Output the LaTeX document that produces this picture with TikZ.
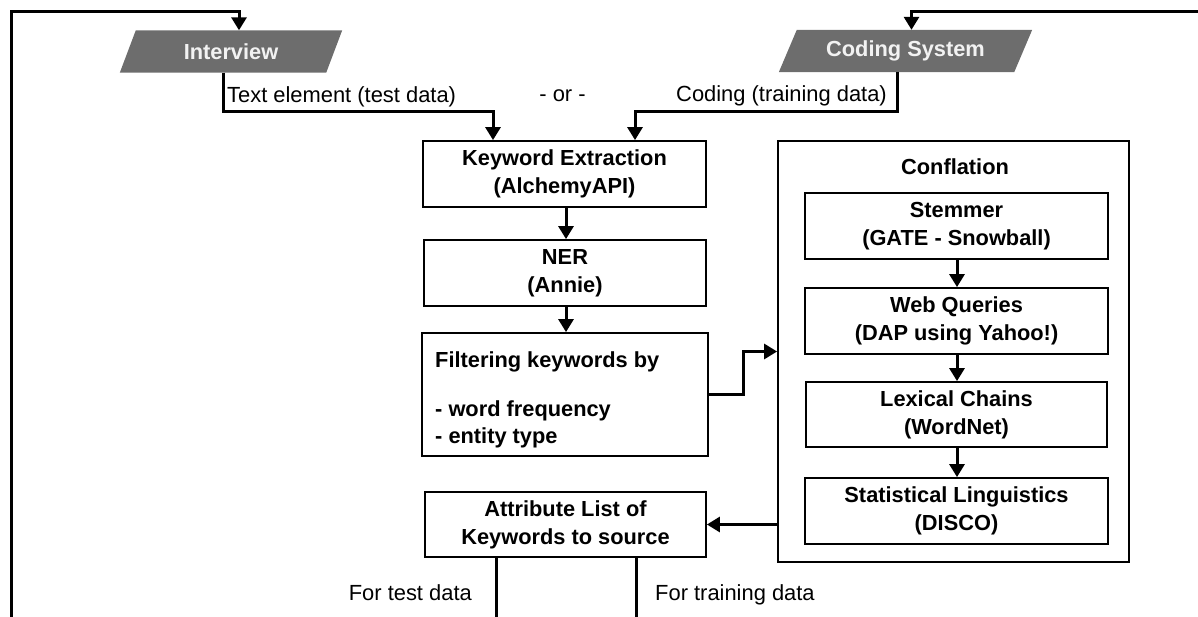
\documentclass[tikz,border=0pt]{standalone}
\usepackage{fontspec}
\setmainfont{Liberation Sans}
\usetikzlibrary{arrows.meta,calc}

\definecolor{iofill}{HTML}{6D6D6D}
\definecolor{iotext}{HTML}{F2F2F2}

\tikzset{
  proc/.style={draw=black, line width=1.8pt, fill=white, inner sep=0pt,
    align=center, font=\fontsize{21.8}{28}\selectfont\bfseries},
  boldtxt/.style={inner sep=0pt, font=\fontsize{21.8}{28}\selectfont\bfseries},
  plaintxt/.style={inner sep=0pt, font=\fontsize{21.9}{26}\selectfont},
  iotxt/.style={inner sep=0pt, text=iotext, font=\fontsize{21.8}{26}\selectfont\bfseries},
  flow/.style={line width=3pt, -{Triangle[length=13pt,width=15pt]}},
  wire/.style={line width=3pt},
}

\begin{document}
\begin{tikzpicture}[x=1pt,y=-1pt]
  \useasboundingbox (0,0) rectangle (1198,617);

  % input/output parallelograms
  \node[iotxt, minimum width=206pt, minimum height=42pt] (interview) at (231,51.5) {Interview};
  \fill[iofill] ($(interview.south west)+(-8,0)$) -- ($(interview.south east)+(-8,0)$)
    -- ($(interview.north east)+(8,0)$) -- ($(interview.north west)+(8,0)$) -- cycle;
  \node[iotxt] at (interview.center) {Interview};
  \coordinate (intop) at ($(interview.north)+(8,0)$);
  \coordinate (inbot) at ($(interview.south)+(-8,0)$);

  \node[iotxt, minimum width=235pt, minimum height=42pt] (coding) at (905.5,51) {Coding System};
  \fill[iofill] ($(coding.south west)+(-9,0)$) -- ($(coding.south east)+(-9,0)$)
    -- ($(coding.north east)+(9,0)$) -- ($(coding.north west)+(9,0)$) -- cycle;
  \node[iotxt] at (coding.center) {Coding System};
  \coordinate (cotop) at ($(coding.north)+(6,0)$);
  \coordinate (cobot) at ($(coding.south)+(-8.5,0)$);

  % main processing column
  \node[proc, minimum width=283pt, minimum height=66pt] (kw) at (564.5,174)
    {Keyword Extraction\\(AlchemyAPI)};
  \node[proc, minimum width=282pt, minimum height=66pt] (ner) at (565,273)
    {NER\\(Annie)};
  \node[proc, minimum width=286pt, minimum height=123pt] (filt) at (565,394.5) {};
  \node[boldtxt, anchor=west, align=left] (filttxt) at (435,400)
    {Filtering keywords by\\[21pt]- word frequency\\[-1pt]- entity type};
  \node[proc, minimum width=281pt, minimum height=65pt] (attr) at (565.5,524.5)
    {Attribute List of\\Keywords to source};

  % conflation group
  \node[proc, minimum width=351pt, minimum height=421pt] (conf) at (953.5,351.5) {};
  \node[boldtxt] (conftitle) at (955,167) {Conflation};
  \node[proc, minimum width=303pt, minimum height=66pt] (stem) at (956.5,226)
    {Stemmer\\(GATE - Snowball)};
  \node[proc, minimum width=303pt, minimum height=66pt] (web) at (956.5,321)
    {Web Queries\\(DAP using Yahoo!)};
  \node[proc, minimum width=301pt, minimum height=65pt] (lex) at (956.5,414.5)
    {Lexical Chains\\(WordNet)};
  \node[proc, minimum width=303pt, minimum height=66pt] (stat) at (956.5,511)
    {Statistical Linguistics\\(DISCO)};

  % inputs into keyword extraction
  \draw[flow] (inbot) |- (493,112) -- (kw.north -| 493,0);
  \draw[flow] (cobot) |- (635,112) -- (kw.north -| 635,0);
  \node[plaintxt, anchor=base west] (lbltest) at (227,103) {Text element (test data)};
  \node[plaintxt, anchor=base] (lblor) at (562.5,102) {- or -};
  \node[plaintxt, anchor=base east] (lbltrain) at (887,102) {Coding (training data)};

  % main column flow
  \draw[flow] (kw.south -| 566,0) -- (ner.north -| 566,0);
  \draw[flow] (ner.south -| 566,0) -- (filt.north -| 566,0);
  \draw[flow] (filt.east) -- ++(35,0) |- (conf.west);
  \draw[flow] (stem.south -| 957,0) -- (web.north -| 957,0);
  \draw[flow] (web.south -| 957,0) -- (lex.north -| 957,0);
  \draw[flow] (lex.south -| 957,0) -- (stat.north -| 957,0);
  \draw[flow] (attr.east -| conf.west) -- (attr.east);

  % outputs of the attribute list
  \coordinate (testend) at (496,617);
  \coordinate (trainend) at (636,617);
  \draw[wire] (testend |- attr.south) -- (testend);
  \draw[wire] (trainend |- attr.south) -- (trainend);
  \node[plaintxt, anchor=base east] (lblfortest) at (472,600) {For test data};
  \node[plaintxt, anchor=base west] (lblfortrain) at (655,600) {For training data};

  % feedback loops
  \coordinate (leftfoot) at (11,617);
  \coordinate (rightend) at (1198,11.5);
  \draw[flow] (leftfoot) |- (intop |- 0,11.5) -- (intop);
  \draw[flow] (rightend) -| (cotop);
\end{tikzpicture}
\end{document}
